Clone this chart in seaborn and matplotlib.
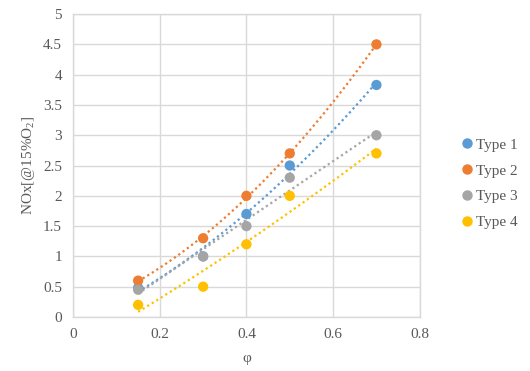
import matplotlib
matplotlib.use("Agg")
import matplotlib.pyplot as plt
import seaborn as sns
import pandas as pd
from matplotlib.lines import Line2D

phi = [0.15, 0.3, 0.4, 0.5, 0.7]
type1 = [0.48, 1.0, 1.7, 2.5, 3.83]
type2 = [0.6, 1.3, 2.0, 2.7, 4.5]
type3 = [0.45, 1.0, 1.5, 2.3, 3.0]
type4 = [0.2, 0.5, 1.2, 2.0, 2.7]
series_names = ["Type 1", "Type 2", "Type 3", "Type 4"]
colors = ["#5B9BD5", "#ED7D31", "#A5A5A5", "#FFC000"]
x_ticks = [0, 0.2, 0.4, 0.6, 0.8]
y_ticks = [0, 0.5, 1, 1.5, 2, 2.5, 3, 3.5, 4, 4.5, 5]

rows = []
for name, vals in zip(series_names, [type1, type2, type3, type4]):
    for x, y in zip(phi, vals):
        rows.append({"phi": x, "NOx": y, "series": name})
df = pd.DataFrame(rows)

sns.set_style("white")
plt.rcParams["font.family"] = ["Liberation Serif", "DejaVu Serif"]
plt.rcParams["mathtext.fontset"] = "custom"
plt.rcParams["mathtext.rm"] = "Liberation Serif"
plt.rcParams["mathtext.it"] = "Liberation Serif:italic"

fig = plt.figure(figsize=(5.30, 3.71), dpi=100)
ax = fig.add_axes([0.138, 0.1456, 0.654, 0.8164])

for name, c in zip(series_names, colors):
    sub = df[df["series"] == name]
    sns.regplot(data=sub, x="phi", y="NOx", order=2, ci=None, scatter=False,
                ax=ax, color=c,
                line_kws=dict(linestyle=(0, (1, 1.4)), linewidth=1.6, zorder=2))

sns.scatterplot(data=df, x="phi", y="NOx", hue="series", palette=colors,
                s=55, edgecolor="none", ax=ax, legend=False, zorder=3)

ax.set_xlim(0, 0.8)
ax.set_ylim(0, 5)
ax.set_xticks(x_ticks)
ax.set_xticklabels([f"{t:g}" for t in x_ticks])
ax.set_yticks(y_ticks)
ax.set_yticklabels([f"{t:g}" for t in y_ticks])
ax.grid(True, color="#d9d9d9", linewidth=1.0)
ax.set_axisbelow(True)
for s in ax.spines.values():
    s.set_color("#d9d9d9")
    s.set_linewidth(1.0)
ax.tick_params(axis="both", length=0, labelsize=11, colors="#595959", pad=8)
ax.set_xlabel("φ", fontsize=11, color="#595959", labelpad=8)
ax.set_ylabel("NOx[@15%O$_2$]", fontsize=11, color="#595959", labelpad=4)

handles = [Line2D([], [], marker="o", linestyle="none", color=c, markersize=6.5)
           for c in colors]
leg = fig.legend(handles, series_names, loc="center left",
                 bbox_to_anchor=(0.84, 0.505), frameon=False, fontsize=11,
                 handletextpad=0.1, labelspacing=0.8, handlelength=1.0)
for t in leg.get_texts():
    t.set_color("#595959")

fig.savefig("out.png", dpi=100)
